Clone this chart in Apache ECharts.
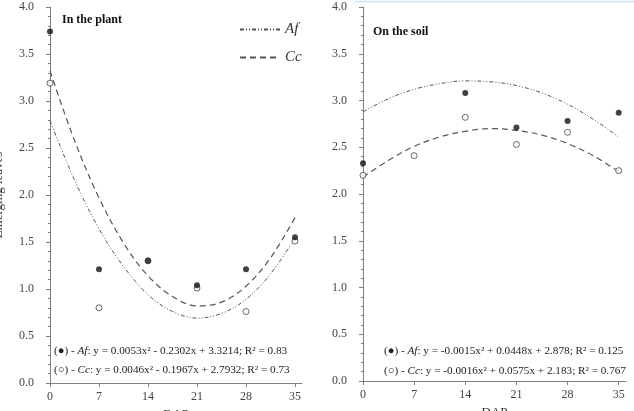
<!DOCTYPE html>
<html>
<head>
<meta charset="utf-8">
<script src="https://cdn.jsdelivr.net/npm/echarts@6/dist/echarts.min.js"></script>
<style>
  html, body { margin: 0; padding: 0; background: #fff; }
  #chart { width: 634px; height: 411px; }
</style>
</head>
<body>
<div id="chart"></div>
<script>
// sampling days
const days = [0, 7, 14, 21, 28, 35];
const xTicks = [0, 7, 14, 21, 28, 35];
const curveX = [0, 3.5, 7, 10.5, 14, 17.5, 21, 24.5, 28, 31.5, 35];

// In the plant - observed points
const plantAf = [3.74, 1.21, 1.30, 1.04, 1.21, 1.55];
const plantCc = [3.19, 0.80, 1.30, 1.01, 0.76, 1.51];
// In the plant - fitted curves
const plantDashed = [3.32, 2.58, 1.97, 1.49, 1.14, 0.92, 0.82, 0.86, 1.03, 1.33, 1.76];
const plantDotted = [2.79, 2.16, 1.64, 1.24, 0.94, 0.76, 0.69, 0.74, 0.89, 1.16, 1.54];

// On the soil - observed points
const soilAf = [2.33, null, 3.08, 2.71, 2.78, 2.87];
const soilCc = [2.20, 2.41, 2.82, 2.53, 2.66, 2.25];
// On the soil - fitted curves
const soilDotted = [2.88, 3.02, 3.12, 3.18, 3.21, 3.20, 3.16, 3.08, 2.96, 2.80, 2.61];
const soilDashed = [2.18, 2.36, 2.51, 2.61, 2.67, 2.70, 2.68, 2.63, 2.54, 2.41, 2.24];

const pair = (xs, ys) => xs.map((x, i) => [x, ys[i]]);

const serif = 'Liberation Serif';
const axisColor = '#808080';

function xAxisOf(grid) {
  return {
    type: 'value', gridIndex: grid, min: 0, max: 36, interval: 7,
    name: 'DAP', nameLocation: 'middle', nameGap: 17,
    nameTextStyle: { fontFamily: serif, fontSize: 13, color: '#333' },
    axisLine: { lineStyle: { color: axisColor } },
    axisTick: { customValues: xTicks, length: 4, lineStyle: { color: axisColor } },
    axisLabel: { customValues: xTicks, fontFamily: serif, fontSize: 12, color: '#444', margin: 8 },
    splitLine: { show: false }
  };
}
function yAxisOf(grid, name) {
  return {
    type: 'value', gridIndex: grid, min: 0, max: 4, interval: 0.5,
    name: name, nameLocation: 'middle', nameGap: 45, nameRotate: 90,
    nameTextStyle: { fontFamily: serif, fontSize: 13, color: '#333' },
    axisLine: { show: true, lineStyle: { color: axisColor } },
    axisTick: { show: true, length: 4, lineStyle: { color: axisColor } },
    minorTick: { show: true, splitNumber: 5, length: 2, lineStyle: { color: axisColor } },
    axisLabel: { fontFamily: serif, fontSize: 12, color: '#444', margin: 16,
      formatter: v => v.toFixed(1) },
    splitLine: { show: false }
  };
}
function curve(name, grid, data, dash, width) {
  return {
    name: name, type: 'line', xAxisIndex: grid, yAxisIndex: grid,
    data: data, smooth: 0.35, symbol: 'none', silent: true,
    itemStyle: { color: '#555' },
    lineStyle: { color: '#555', width: width, type: dash }
  };
}
function points(grid, data, filled) {
  return {
    type: 'scatter', xAxisIndex: grid, yAxisIndex: grid, data: data,
    symbol: 'circle', symbolSize: 6,
    itemStyle: filled ? { color: '#111' } : { color: '#fff', borderColor: '#444', borderWidth: 1 },
    z: 5
  };
}
const dotDash = [4, 2, 1, 2, 1, 2];
const dash = [6, 4];

const eqRich = {
  n: { fontFamily: serif, fontSize: 11.2, color: '#222', fontWeight: 'normal' },
  i: { fontFamily: serif, fontSize: 11.2, color: '#222', fontWeight: 'normal', fontStyle: 'italic' }
};

const chart = echarts.init(document.getElementById('chart'));
chart.setOption({
  animation: false,
  backgroundColor: '#fff',
  grid: [
    { left: 50, top: 7, width: 252, height: 376, outerBoundsMode: 'none', containLabel: false },
    { left: 363, top: 7, width: 263, height: 374, outerBoundsMode: 'none', containLabel: false }
  ],
  xAxis: [xAxisOf(0), xAxisOf(1)],
  yAxis: [yAxisOf(0, 'Emerging leaves'), yAxisOf(1, '')],
  legend: {
    data: ['Af', 'Cc'], orient: 'vertical', left: 234, top: 17, itemGap: 13,
    itemWidth: 40, itemHeight: 10,
    itemStyle: { opacity: 0 },
    textStyle: { fontFamily: serif, fontSize: 15, fontStyle: 'italic', color: '#333' }
  },
  title: [
    { text: 'In the plant', left: 57, top: 9,
      textStyle: { fontFamily: serif, fontSize: 12, fontWeight: 'bold', color: '#111' } },
    { text: 'On the soil', left: 368, top: 21,
      textStyle: { fontFamily: serif, fontSize: 12, fontWeight: 'bold', color: '#111' } },
    { text: '{n|(●) - }{i|Af}{n|: y = 0.0053x² - 0.2302x + 3.3214; R² = 0.83}',
      left: 49, top: 341, textStyle: { rich: eqRich } },
    { text: '{n|(○) - }{i|Cc}{n|: y = 0.0046x² - 0.1967x + 2.7932; R² = 0.73}',
      left: 49, top: 360, textStyle: { rich: eqRich } },
    { text: '{n|(●) - }{i|Af}{n|: y = -0.0015x² + 0.0448x + 2.878; R² = 0.125}',
      left: 379, top: 341, textStyle: { rich: eqRich } },
    { text: '{n|(○) - }{i|Cc}{n|: y = -0.0016x² + 0.0575x + 2.183; R² = 0.767}',
      left: 379, top: 361, textStyle: { rich: eqRich } }
  ],
  graphic: [
    { type: 'line', shape: { x1: 355, y1: 1.5, x2: 634, y2: 1.5 },
      style: { stroke: '#cfe2f3', lineWidth: 1.5 }, silent: true }
  ],
  series: [
    curve('Af', 0, pair(curveX, plantDotted), dotDash, 1),
    curve('Cc', 0, pair(curveX, plantDashed), dash, 1.2),
    points(0, pair(days, plantCc), false),
    points(0, pair(days, plantAf), true),
    curve('soilAf', 1, pair(curveX, soilDotted), dotDash, 1),
    curve('soilCc', 1, pair(curveX, soilDashed), dash, 1.2),
    points(1, pair(days, soilCc), false),
    points(1, pair(days, soilAf).filter(p => p[1] !== null), true)
  ]
});
</script>
</body>
</html>
